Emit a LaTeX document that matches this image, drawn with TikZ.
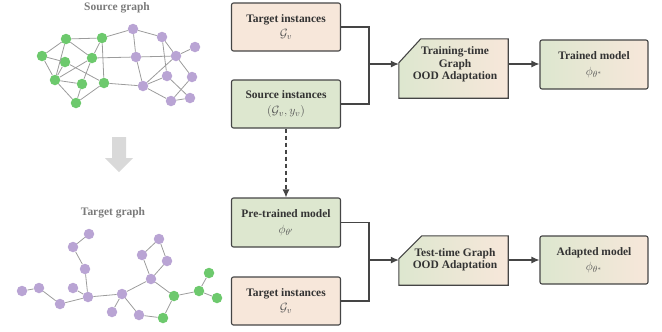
\documentclass[tikz,border=0pt]{standalone}
\usepackage{fontspec}
\setmainfont{Liberation Serif}
\usetikzlibrary{arrows.meta,calc}
\definecolor{gfill}{HTML}{DDE7CF}
\definecolor{pfill}{HTML}{F7E7DA}
\definecolor{edgec}{HTML}{454545}
\definecolor{gnode}{HTML}{6DC96D}
\definecolor{pnode}{HTML}{B9A4D4}
\definecolor{gedge}{HTML}{9C9C9C}
\definecolor{titlec}{HTML}{7A7A7A}
\definecolor{txtc}{HTML}{333333}
\definecolor{mathc}{HTML}{555555}
\definecolor{bigarrow}{HTML}{D9D9D9}
\newcommand{\mth}[1]{{\fontsize{13}{15}\selectfont\color{mathc}$#1$}}
\begin{document}
\begin{tikzpicture}[x=1bp,y=-1bp,
  box/.style={draw=edgec, line width=1.1bp, rounded corners=2bp, minimum width=109bp, minimum height=48bp, align=center, inner sep=0pt, text=txtc, font=\fontsize{11.5}{15.5}\selectfont\bfseries},
  greenbox/.style={box, fill=gfill},
  peachbox/.style={box, fill=pfill},
  gradbox/.style={box, left color=gfill, right color=pfill},
  proctext/.style={minimum width=109bp, align=center, inner sep=0pt, text=txtc, font=\fontsize{11.5}{12.5}\selectfont\bfseries},
  procshape/.style={draw=edgec, line width=1.1bp, left color=gfill, right color=pfill},
  conn/.style={draw=edgec, line width=1.1bp},
  arr/.style={conn, -{Latex[length=8bp,width=7bp]}},
  gn/.style={circle, fill=gnode, minimum size=10.5bp, inner sep=0pt},
  pn/.style={circle, fill=pnode, minimum size=10.5bp, inner sep=0pt},
  ge/.style={draw=gedge, line width=0.8bp},
  ttl/.style={text=titlec, font=\fontsize{11.5}{13}\selectfont\bfseries}
]
\useasboundingbox (0,0) rectangle (662,331);

% ---------- titles ----------
\node[ttl] (srct) at (117,8) {Source graph};
\node[ttl] (tgtt) at (113,213) {Target graph};

% ---------- big gray arrow ----------
\fill[bigarrow] (112,137) -- (126,137) -- (126,158) -- (133,158) -- (119,172) -- (105,158) -- (112,158) -- cycle;

% ---------- source graph ----------
\node[gn] (g1) at (66,39) {};
\node[gn] (g2) at (102,38) {};
\node[gn] (g3) at (42,56) {};
\node[gn] (g4) at (65,62) {};
\node[gn] (g5) at (92,58) {};
\node[gn] (g6) at (55,80) {};
\node[gn] (g7) at (82,84) {};
\node[gn] (g8) at (104,83) {};
\node[gn] (g9) at (76,103) {};
\node[pn] (p1) at (133,29) {};
\node[pn] (p2) at (162,37) {};
\node[pn] (p3) at (195,47) {};
\node[pn] (p4) at (136,57) {};
\node[pn] (p5) at (176,56) {};
\node[pn] (p6) at (143,86) {};
\node[pn] (p7) at (167,76) {};
\node[pn] (p8) at (192,77) {};
\node[pn] (p9) at (171,101) {};
\node[pn] (p10) at (190,98) {};
\foreach \a/\b in {g1/g2,g1/g3,g1/g5,g1/g6,g2/g5,g2/g8,g3/g4,g4/g8,g3/g6,g4/g6,g5/g6,g5/g7,g6/g7,g6/g9,g7/g9,g8/g9,
  g2/p1,g5/p4,g8/p6,p1/p2,p1/p4,p2/p5,p3/p5,p4/p5,p4/p6,p6/p5,p6/p7,p6/p9,p2/p7,p5/p8,p7/p10,p8/p9,p9/p10}
  \draw[ge] (\a) -- (\b);

% ---------- target graph ----------
\node[pn] (ta) at (22,291) {};
\node[pn] (tb) at (39,288) {};
\node[pn] (tc) at (60,304) {};
\node[pn] (td) at (73,288) {};
\node[pn] (te) at (88,297) {};
\node[pn] (tf) at (85,269) {};
\node[pn] (tg) at (73,247) {};
\node[pn] (th) at (89,234) {};
\node[pn] (ti) at (122,294) {};
\node[pn] (tj) at (112,312) {};
\node[pn] (tk) at (139,315) {};
\node[pn] (tl) at (151,279) {};
\node[pn] (tm) at (142,255) {};
\node[pn] (tn) at (159,239) {};
\node[pn] (to) at (167,261) {};
\node[gn] (tq) at (163,318) {};
\node[gn] (tr) at (174,296) {};
\node[gn] (ts) at (199,291) {};
\node[gn] (tu) at (209,273) {};
\node[gn] (tv) at (217,298) {};
\foreach \a/\b in {ta/tb,tb/tc,tc/te,td/te,te/tf,tf/tg,tg/th,te/ti,ti/tj,ti/tk,ti/tl,tk/tq,tq/tr,tl/tr,tl/tm,tm/tn,tn/to,to/tl,tr/ts,ts/tu,ts/tv}
  \draw[ge] (\a) -- (\b);

% ---------- top flow ----------
\node[peachbox] (tgt1) at (286,27) {Target instances\\[0pt]\mth{\mathcal{G}_v}};
\node[greenbox] (src) at (286,104) {Source instances\\[0pt]\mth{(\mathcal{G}_v, y_v)}};
\node[proctext, minimum height=59bp] (proc1) at (453.5,68.5) {};
\path[procshape] (proc1.south west) -- ($(proc1.north west)+(0,24)$) -- ($(proc1.north west)+(22,0)$) -- (proc1.north east) -- (proc1.south east) -- cycle;
\node[proctext] (proc1t) at (455,64.5) {Training-time\\Graph\\OOD Adaptation};
\node[gradbox, minimum width=108bp, minimum height=49bp] (trained) at (594,64.5) {Trained model\\[0pt]\mth{\phi_{\theta^*}}};

\coordinate (j1) at (369,64);
\draw[conn] (tgt1.east) -| (j1);
\draw[conn] (src.east) -| (j1);
\draw[arr] (j1) -- (proc1.west |- j1);
\draw[arr] (proc1.east |- j1) -- (trained.west |- j1);

% ---------- dashed ----------
\node[greenbox, minimum height=49bp] (pre) at (286,222.5) {Pre-trained model\\[0pt]\mth{\phi_{\theta'}}};
\draw[arr, dash pattern=on 4bp off 3bp] (src.south) -- (pre.north);

% ---------- bottom flow ----------
\node[peachbox] (tgt2) at (286,301) {Target instances\\[0pt]\mth{\mathcal{G}_v}};
\node[proctext, minimum height=49bp] (proc2) at (453.5,260.5) {};
\path[procshape] (proc2.south west) -- ($(proc2.north west)+(0,23)$) -- ($(proc2.north west)+(23,0)$) -- (proc2.north east) -- (proc2.south east) -- cycle;
\node[proctext] (proc2t) at (455,259.5) {Test-time Graph\\OOD Adaptation};
\node[gradbox, minimum width=108bp, minimum height=48bp] (adapted) at (594,260) {Adapted model\\[0pt]\mth{\phi_{\theta^*}}};

\coordinate (j2) at (369,260);
\draw[conn] (pre.east) -| (j2);
\draw[conn] (tgt2.east) -| (j2);
\draw[arr] (j2) -- (proc2.west |- j2);
\draw[arr] (proc2.east |- j2) -- (adapted.west |- j2);
\end{tikzpicture}
\end{document}
